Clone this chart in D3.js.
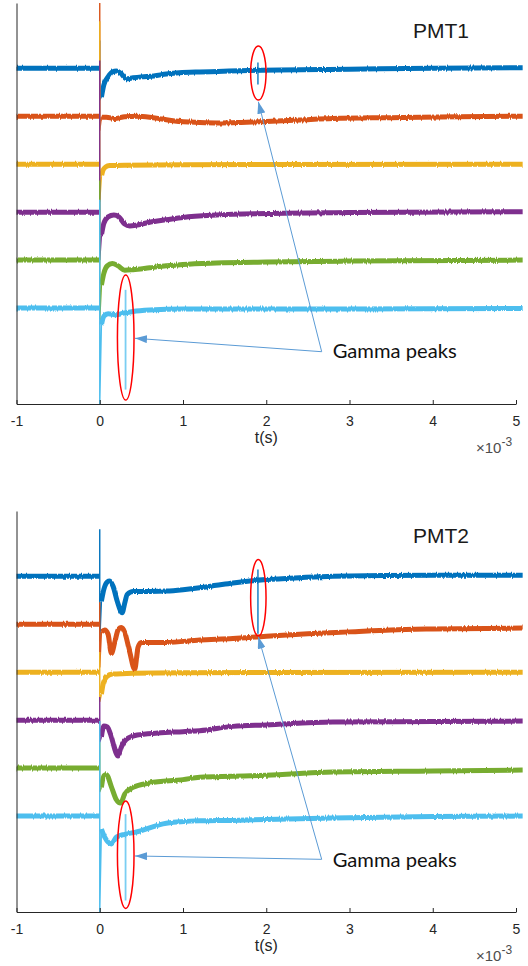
<!DOCTYPE html>
<html><head><meta charset="utf-8">
<script src="https://cdn.jsdelivr.net/npm/d3@7"></script>
<style>body{margin:0;background:#fff} svg{display:block}</style>
</head><body>
<svg id="c" width="528" height="966"></svg>
<script>
// ---------- data (time in ms, signal deviation in mV from each trace's offset) ----------
const xTicks = [-1, 0, 1, 2, 3, 4, 5];
const traceColors = ["#0072BD", "#D95319", "#EDB120", "#7E2F8E", "#77AC30", "#4DBEEE"];
const traceOffsets = [300, 250, 200, 150, 100, 50];
const panelTitles = ["PMT1", "PMT2"];
const annotationText = "Gamma peaks";

const p1Blue   = [[-1,0],[0,0],[0.02,-30],[0.05,-17],[0.1,-9],[0.15,-4],[0.2,-3],[0.25,-5],[0.32,-11],[0.4,-10],[0.5,-9],[0.65,-8],[0.8,-6],[1.15,-4],[1.55,-3],[1.95,-2],[3,-1],[4,0],[5.08,0.5]];
const p1Orange = [[-1,0],[0,0],[0.02,-1],[0.08,-1],[0.18,-2.5],[0.3,-0.5],[0.45,0],[0.6,-1],[0.75,-3],[0.9,-5],[1.2,-6.5],[1.45,-7],[1.7,-6.5],[2,-5.5],[2.4,-4],[2.8,-2.5],[3.5,-1.5],[4.3,-0.5],[5.08,0]];
const p1Yellow = [[-1,0],[0,0],[0.02,-12.5],[0.04,-6],[0.07,-3],[0.12,-1.5],[0.3,-1],[1,-0.5],[5.08,0]];
const p1Purple = [[-1,0],[0,0],[0.02,-24],[0.05,-11.5],[0.1,-5],[0.17,-3],[0.23,-5],[0.3,-12.5],[0.36,-14.5],[0.45,-13.5],[0.6,-10.5],[0.8,-8],[1,-5.5],[1.4,-3],[2,-1.5],[3,-0.5],[5.08,0.5]];
const p1Green  = [[-1,0],[0,0],[0.02,-26],[0.05,-13.5],[0.09,-6],[0.15,-3.5],[0.22,-6],[0.3,-10.5],[0.4,-10],[0.6,-8],[0.8,-6],[1,-4.5],[1.4,-3],[2,-2],[3,-1],[5.08,0]];
const p1Cyan   = [[-1,0],[0,0],[0.02,-17.5],[0.05,-8.5],[0.1,-6],[0.2,-7],[0.3,-5],[0.4,-3.5],[0.6,-2],[1,-1],[3,-1],[5.08,-0.5]];
const p1SpikeTop    = [29, 118, 149, 158, 83, 113];
const p1SpikeBottom = [-33, -15, -39, -50, -62, -100];
// gamma peaks: [trace index, t, top, bottom]
const p1Gamma = [[0, 1.9, 6, -17], [5, 0.31, 19, -85]];

const p2Blue   = [[-1,0],[0,0],[0.02,-26],[0.05,-13.5],[0.09,-6],[0.12,-5],[0.16,-10.5],[0.21,-26],[0.27,-38],[0.3,-28],[0.33,-19],[0.4,-16],[0.6,-16],[0.8,-15.5],[1,-14],[1.2,-12],[1.4,-9.5],[1.6,-7],[1.8,-5],[2,-3.5],[2.4,-1.5],[2.8,0],[4,1],[5.08,1]];
const p2Orange = [[-1,0],[0,0],[0.02,-8],[0.06,-6],[0.1,-10.5],[0.14,-30.5],[0.18,-19],[0.22,-6],[0.26,-3.5],[0.3,-8.5],[0.36,-29],[0.42,-47],[0.46,-24],[0.5,-19],[0.8,-19],[1.2,-16.5],[1.6,-15],[2,-12.5],[2.5,-10],[3,-8],[3.5,-6],[4,-5],[5.08,-4]];
const p2Yellow = [[-1,0],[0,0],[0.02,-23],[0.04,-12.5],[0.08,-5],[0.15,-2],[0.4,-1],[1,-0.5],[5.08,0]];
const p2Purple = [[-1,0],[0,0],[0.02,-17.5],[0.05,-6],[0.09,-7],[0.14,-17.5],[0.19,-33],[0.22,-37.5],[0.26,-28],[0.32,-20],[0.45,-15.5],[0.7,-13.5],[1,-12],[1.2,-11],[1.6,-6.5],[2,-5],[2.8,-2],[4,-1.5],[5.08,-1]];
const p2Green  = [[-1,0],[0,0],[0.02,-20],[0.05,-8],[0.08,-7],[0.14,-19.5],[0.2,-33],[0.25,-36.5],[0.3,-27],[0.4,-20],[0.6,-15.5],[1,-12],[1.2,-9.5],[1.6,-8.5],[2,-7.5],[2.8,-4],[4,-3],[5.08,-2]];
const p2Cyan   = [[-1,0],[0,0],[0.02,-13.5],[0.06,-22],[0.14,-29],[0.2,-22],[0.3,-19],[0.42,-17],[0.8,-7.5],[1.2,-5],[1.6,-4.5],[2,-3.5],[2.8,-2],[4,-0.5],[5.08,0]];
const p2SpikeTop    = [49, 23, 21, 24, 27, 99];
const p2SpikeBottom = [-68, -45, -31, -23, -25, -100];
const p2Gamma = [[0, 1.9, 7, -60], [5, 0.31, 2, -88]];

// annotations in data units: ellipses [t, v, halfWidth(ms), halfHeight(mV)]
const p1Ellipses = [[1.905, 295, 0.0925, 28.1], [0.312, 19.3, 0.0997, 65.2]];
const p2Ellipses = [[1.905, 277.6, 0.0925, 39.9], [0.312, 9.7, 0.0997, 56]];
const p1ArrowFrom = [2.666, 4.5], p1ArrowTips = [[1.905, 265.1], [0.4234, 18.5]];
const p2ArrowFrom = [2.666, 4.9], p2ArrowTips = [[1.905, 237], [0.4234, 8.4]];
const p1LabelPos = [2.798, -2], p2LabelPos = [2.798, -3];
const p1TitlePos = [3.763, 331.5], p2TitlePos = [3.763, 334.3];

// ---------- drawing ----------
const svg = d3.select("#c");
const axisColor = "#262626";
const x = d3.scaleLinear().domain([-1, 5]).range([16.5, 516]);

const defs = svg.append("defs");
const f = defs.append("filter").attr("id", "noise")
  .attr("filterUnits", "userSpaceOnUse").attr("x", 0).attr("y", 0).attr("width", 528).attr("height", 966)
  .attr("color-interpolation-filters", "sRGB");
f.append("feTurbulence").attr("type", "fractalNoise").attr("baseFrequency", "0.8 0.03")
  .attr("numOctaves", 2).attr("seed", 4).attr("result", "t");
f.append("feColorMatrix").attr("in", "t").attr("type", "matrix")
  .attr("values", "0 0 0 0 0.5  1 0 0 0 0  0 0 0 0 0  0 0 0 0 1").attr("result", "m");
f.append("feDisplacementMap").attr("in", "SourceGraphic").attr("in2", "m").attr("scale", 3)
  .attr("xChannelSelector", "R").attr("yChannelSelector", "G");

defs.append("marker").attr("id", "arr").attr("markerUnits", "userSpaceOnUse")
  .attr("viewBox", "0 0 12 8").attr("refX", 12).attr("refY", 4)
  .attr("markerWidth", 12).attr("markerHeight", 8).attr("orient", "auto")
  .append("path").attr("d", "M0,0L12,4L0,8Z").attr("fill", "#5B9BD5");

function drawPanel(cfg) {
  const y = d3.scaleLinear().domain([-50, 368]).range([cfg.bottom, cfg.top]);
  const g = svg.append("g");
  const line = d3.line().x(d => x(d[0])).y(d => y(d[1])).curve(d3.curveMonotoneX);
  const thin = d3.line().x(d => x(d[0])).y(d => y(d[1]));

  const bands = g.append("g").attr("filter", "url(#noise)");
  cfg.traces.forEach((tr, i) => {
    const off = traceOffsets[i];
    const pts = tr.map(d => [d[0], d[1] + off]);
    const pre = pts.filter(d => d[0] <= 0);
    const post = pts.filter(d => d[0] > 0);
    // thin trigger spike
    g.append("path")
      .attr("d", thin([[0, off], [0, off + cfg.spikeTop[i]], [0, off + cfg.spikeBottom[i]], post[0]]))
      .attr("fill", "none").attr("stroke", traceColors[i]).attr("stroke-width", 1.4);
    const sub = bands.append("g");
    [pre, post].forEach(seg => {
      sub.append("path").attr("d", line(seg))
        .attr("fill", "none").attr("stroke", traceColors[i])
        .attr("stroke-width", 5).attr("stroke-linejoin", "round").attr("stroke-linecap", "butt");
    });
  });
  // gamma peaks
  cfg.gamma.forEach(gm => {
    const off = traceOffsets[gm[0]];
    g.append("path").attr("d", thin([[gm[1], off + gm[2]], [gm[1], off + gm[3]]]))
      .attr("stroke", traceColors[gm[0]]).attr("stroke-opacity", 0.75)
      .attr("stroke-width", 1.8).attr("fill", "none");
  });

  // axes
  const ax = g.append("g").attr("transform", `translate(0,${cfg.bottom})`)
    .call(d3.axisBottom(x).tickValues(xTicks).tickSizeInner(-4).tickSizeOuter(0)
      .tickPadding(12).tickFormat(d => String(d)));
  ax.select(".domain").attr("stroke", axisColor);
  ax.selectAll(".tick line").attr("stroke", axisColor);
  ax.selectAll(".tick text").attr("fill", axisColor).attr("font-family", "Liberation Sans, Arial, sans-serif").attr("font-size", 14);
  const ay = g.append("g").attr("transform", `translate(${x(-1)},0)`)
    .call(d3.axisLeft(y).tickValues([]).tickSizeOuter(0));
  ay.select(".domain").attr("stroke", axisColor);

  const xmid = (x.range()[0] + x.range()[1]) / 2;
  g.append("text").attr("x", xmid).attr("y", cfg.bottom + 39).attr("text-anchor", "middle")
    .attr("font-family", "Liberation Sans, Arial, sans-serif").attr("font-size", 16).attr("fill", axisColor)
    .text("t(s)");
  const ex = g.append("text").attr("x", x.range()[1] - 40).attr("y", cfg.bottom + 49)
    .attr("font-family", "Liberation Sans, Arial, sans-serif").attr("font-size", 15).attr("fill", "#4d4d4d");
  ex.append("tspan").text("×10");
  ex.append("tspan").attr("dy", -7).attr("font-size", 12).text("-3");

  // annotations
  cfg.ellipses.forEach(e => {
    g.append("ellipse").attr("cx", x(e[0])).attr("cy", y(e[1]))
      .attr("rx", x(e[0] + e[2]) - x(e[0])).attr("ry", y(e[1] - e[3]) - y(e[1]))
      .attr("fill", "none").attr("stroke", "#FF0000").attr("stroke-width", 1.5);
  });
  cfg.tips.forEach(tp => {
    g.append("line").attr("x1", x(cfg.from[0])).attr("y1", y(cfg.from[1]))
      .attr("x2", x(tp[0])).attr("y2", y(tp[1]))
      .attr("stroke", "#5B9BD5").attr("stroke-width", 1).attr("marker-end", "url(#arr)");
  });
  g.append("text").attr("x", x(cfg.label[0])).attr("y", y(cfg.label[1]))
    .attr("font-family", "Lato, sans-serif").attr("font-size", 19).attr("fill", "#111")
    .attr("textLength", 124).attr("lengthAdjust", "spacingAndGlyphs")
    .text(annotationText);
  g.append("text").attr("x", x(cfg.titlePos[0])).attr("y", y(cfg.titlePos[1]))
    .attr("font-family", "Liberation Sans, Arial, sans-serif").attr("font-size", 21).attr("fill", "#1a1a1a")
    .text(cfg.title);
}

drawPanel({top: 3, bottom: 404, traces: [p1Blue, p1Orange, p1Yellow, p1Purple, p1Green, p1Cyan],
  spikeTop: p1SpikeTop, spikeBottom: p1SpikeBottom, gamma: p1Gamma,
  ellipses: p1Ellipses, from: p1ArrowFrom, tips: p1ArrowTips, label: p1LabelPos,
  titlePos: p1TitlePos, title: panelTitles[0]});
drawPanel({top: 511, bottom: 912, traces: [p2Blue, p2Orange, p2Yellow, p2Purple, p2Green, p2Cyan],
  spikeTop: p2SpikeTop, spikeBottom: p2SpikeBottom, gamma: p2Gamma,
  ellipses: p2Ellipses, from: p2ArrowFrom, tips: p2ArrowTips, label: p2LabelPos,
  titlePos: p2TitlePos, title: panelTitles[1]});
</script>
</body></html>
